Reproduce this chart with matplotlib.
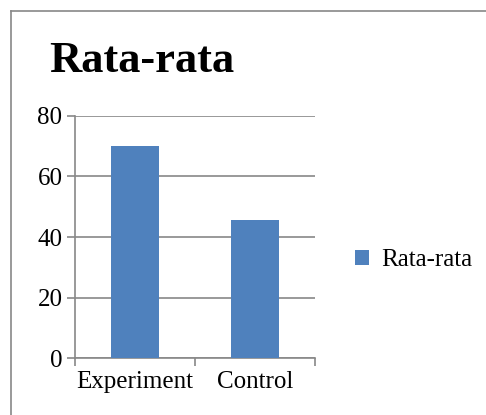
import matplotlib.pyplot as plt
from matplotlib.lines import Line2D
from matplotlib.patches import Patch

categories = ["Experiment", "Control"]
values = [70.1, 45.6]
series_name = "Rata-rata"
title = "Rata-rata"
yticks = [0, 20, 40, 60, 80]

W, H = 486, 415
bar_color = "#4F81BD"
grid_color = "#888888"

plt.rcParams["font.family"] = ["Liberation Serif", "DejaVu Serif"]

fig = plt.figure(figsize=(W / 100, H / 100), dpi=100)
ax = fig.add_axes([75 / W, 1 - 358 / H, 240 / W, 242 / H])

x = list(range(len(categories)))
ax.bar(x, values, width=0.4, color=bar_color, zorder=3, label=series_name)

ax.set_xlim(-0.5, len(categories) - 0.5)
ax.set_ylim(0, 80)
ax.set_yticks(yticks)
ax.set_yticklabels([str(v) for v in yticks])
ax.set_xticks([-0.5, 0.5, 1.5])
ax.set_xticklabels([])
ax.set_xticks(x, minor=True)
ax.set_xticklabels(categories, minor=True)

ax.yaxis.grid(True, color=grid_color, linewidth=1.2, zorder=0)
ax.set_axisbelow(True)
for s in ["top", "right"]:
    ax.spines[s].set_visible(False)
for s in ["left", "bottom"]:
    ax.spines[s].set_color(grid_color)
    ax.spines[s].set_linewidth(1.2)

ax.tick_params(axis="y", which="major", length=6, width=1.2, color=grid_color,
               labelsize=18, pad=3)
ax.tick_params(axis="x", which="major", length=6, width=1.2, color=grid_color)
ax.tick_params(axis="x", which="minor", length=0, labelsize=18, pad=9)

fig.text(49 / W, 1 - 72 / H, title, fontsize=32, fontweight="bold",
         va="baseline", ha="left")

handle = Patch(facecolor=bar_color, edgecolor="none")
fig.legend([handle], [series_name], loc="center left",
           bbox_to_anchor=(355 / W, 1 - 260 / H), frameon=False,
           fontsize=18, handlelength=0.56, handleheight=0.56,
           handletextpad=0.48, borderpad=0, borderaxespad=0)

# outer chart frame (cut off at right and bottom)
fig.add_artist(Line2D([11 / W, 11 / W], [0, 1 - 11 / H], color=grid_color,
                      linewidth=1.2, transform=fig.transFigure))
fig.add_artist(Line2D([11 / W, 1], [1 - 11 / H, 1 - 11 / H], color=grid_color,
                      linewidth=1.2, transform=fig.transFigure))

fig.savefig("out.png", dpi=100)
